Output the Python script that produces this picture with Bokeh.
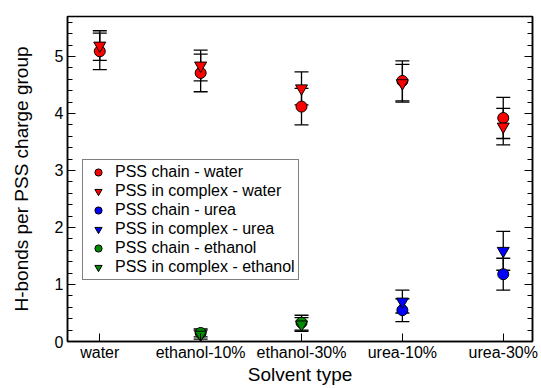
from bokeh.plotting import figure
from bokeh.models import (Range1d, FixedTicker, LinearAxis, ColumnDataSource, Whisker,
                          TeeHead, Legend, LegendItem)
from bokeh.embed import file_html
from bokeh.resources import INLINE

categories = ["water", "ethanol-10%", "ethanol-30%", "urea-10%", "urea-30%"]

water_chain_x = [0, 1, 2, 3, 4]
water_chain = [5.09, 4.71, 4.12, 4.57, 3.92]
water_chain_err = [0.32, 0.33, 0.32, 0.35, 0.36]
water_complex_x = [0, 1, 2, 3, 4]
water_complex = [5.19, 4.84, 4.44, 4.53, 3.77]
water_complex_err = [0.26, 0.27, 0.29, 0.33, 0.32]

urea_chain_x = [3, 4]
urea_chain = [0.55, 1.18]
urea_chain_err = [0.20, 0.28]
urea_complex_x = [3, 4]
urea_complex = [0.70, 1.59]
urea_complex_err = [0.20, 0.34]

ethanol_chain_x = [1, 2]
ethanol_chain = [0.15, 0.33]
ethanol_chain_err = [0.07, 0.13]
ethanol_complex_x = [1, 2]
ethanol_complex = [0.12, 0.30]
ethanol_complex_err = [0.08, 0.12]

FONT = "Liberation Sans"

p = figure(width=541, height=388, output_backend="svg", toolbar_location=None,
           x_range=Range1d(-0.32, 4.29), y_range=Range1d(0, 5.7),
           min_border_left=67, min_border_right=9, min_border_top=16, min_border_bottom=47,
           background_fill_color="white", border_fill_color="white")
p.grid.visible = False
p.outline_line_color = "black"
p.outline_line_width = 1.5

xa = p.xaxis[0]
xa.ticker = FixedTicker(ticks=[0, 1, 2, 3, 4], minor_ticks=[])
xa.major_label_overrides = {i: c for i, c in enumerate(categories)}
xa.axis_label = "Solvent type"
ya = p.yaxis[0]
ya.ticker = FixedTicker(ticks=[0, 1, 2, 3, 4, 5],
                        minor_ticks=[i * 0.2 for i in range(29)])
ya.axis_label = "H-bonds per PSS charge group"

for ax in (xa, ya):
    ax.axis_line_color = "black"
    ax.axis_line_width = 1.5
    ax.major_tick_in = 8
    ax.major_tick_out = 0
    ax.minor_tick_in = 5
    ax.minor_tick_out = 0
    ax.major_tick_line_color = "black"
    ax.minor_tick_line_color = "black"
    ax.major_label_text_font = FONT
    ax.major_label_text_font_size = "16px"
    ax.major_label_text_color = "black"
    ax.axis_label_text_font = FONT
    ax.axis_label_text_font_size = "19px"
    ax.axis_label_text_font_style = "normal"
    ax.axis_label_text_color = "black"
    ax.major_label_standoff = 4
xa.major_label_standoff = 2
xa.axis_label_standoff = 0
ya.axis_label_standoff = 20

ra = LinearAxis(ticker=FixedTicker(ticks=[0, 1, 2, 3, 4, 5],
                                   minor_ticks=[i * 0.2 for i in range(29)]))
ra.major_label_text_color = None
ra.major_label_text_font_size = "1px"
ra.major_tick_in = 8
ra.major_tick_out = 0
ra.minor_tick_in = 5
ra.minor_tick_out = 0
ra.axis_line_color = "black"
ra.axis_line_width = 1.5
ra.major_tick_line_color = "black"
ra.minor_tick_line_color = "black"
p.add_layout(ra, "right")

series = [
    ("PSS chain - water", water_chain_x, water_chain, water_chain_err, "circle", "#ff0000", 11),
    ("PSS in complex - water", water_complex_x, water_complex, water_complex_err, "inverted_triangle", "#ff0000", 12),
    ("PSS chain - urea", urea_chain_x, urea_chain, urea_chain_err, "circle", "#0000ff", 11),
    ("PSS in complex - urea", urea_complex_x, urea_complex, urea_complex_err, "inverted_triangle", "#0000ff", 12),
    ("PSS chain - ethanol", ethanol_chain_x, ethanol_chain, ethanol_chain_err, "circle", "#008c00", 11),
    ("PSS in complex - ethanol", ethanol_complex_x, ethanol_complex, ethanol_complex_err, "inverted_triangle", "#008c00", 12),
]

items = []
for label, xs, ys, es, marker, color, size in series:
    src = ColumnDataSource(dict(x=xs, y=ys,
                                upper=[y + e for y, e in zip(ys, es)],
                                lower=[y - e for y, e in zip(ys, es)]))
    r = p.scatter("x", "y", source=src, marker=marker, size=size,
                  fill_color=color, line_color="black", line_width=1)
    w = Whisker(source=src, base="x", upper="upper", lower="lower", dimension="height",
                line_color="black", line_width=1.3,
                upper_head=TeeHead(size=14, line_color="black", line_width=1.3),
                lower_head=TeeHead(size=14, line_color="black", line_width=1.3))
    p.add_layout(w)
    items.append(LegendItem(label=label, renderers=[r]))

legend = Legend(items=items, location=(15, 61))
legend.label_text_font = FONT
legend.label_text_font_size = "16px"
legend.label_text_color = "black"
legend.label_height = 18
legend.glyph_height = 18
legend.glyph_width = 24
legend.label_standoff = 5
legend.spacing = 1
legend.padding = 3
legend.margin = 0
legend.border_line_color = "black"
legend.border_line_width = 1
legend.background_fill_alpha = 1
p.add_layout(legend, "center")

open("out.html", "w").write(file_html(p, INLINE))
